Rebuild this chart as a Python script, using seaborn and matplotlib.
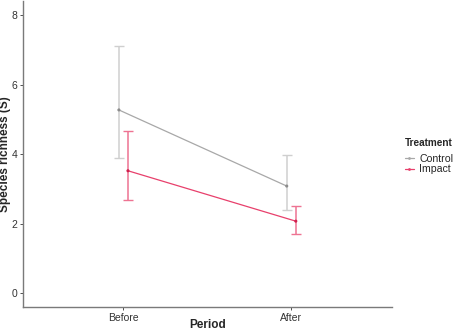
import numpy as np
import pandas as pd
import matplotlib
matplotlib.use("Agg")
from matplotlib import pyplot as plt
from matplotlib.lines import Line2D
import seaborn as sns

# Daten
periods = ["Before", "After"]
treatments = ["Control", "Impact"]
control_mean = [5.27, 3.08]
control_low = [3.89, 2.39]
control_high = [7.11, 3.97]
impact_mean = [3.52, 2.07]
impact_low = [2.68, 1.69]
impact_high = [4.65, 2.52]

line_colors = {"Control": "#a8a8a8", "Impact": "#e8406c"}
bar_colors = {"Control": "#cfcfcf", "Impact": "#ee7392"}
dodge = {"Control": -0.027, "Impact": 0.027}

df = pd.DataFrame({
    "Period": periods * 2,
    "Treatment": ["Control"] * 2 + ["Impact"] * 2,
    "mean": control_mean + impact_mean,
    "low": control_low + impact_low,
    "high": control_high + impact_high,
})
df["pos"] = df["Period"].map({p: i for i, p in enumerate(periods)}) + df["Treatment"].map(dodge)

sns.set_theme(style="white")
plt.rcParams["font.family"] = ["Liberation Sans", "DejaVu Sans"]

fig = plt.figure(figsize=(4.57, 3.31), dpi=100)
ax = fig.add_axes([0.0497, 0.0725, 0.808, 0.924])

for t in treatments:
    sub = df[df["Treatment"] == t]
    ax.errorbar(sub["pos"], sub["mean"],
                yerr=[sub["mean"] - sub["low"], sub["high"] - sub["mean"]],
                fmt="none", ecolor=bar_colors[t], elinewidth=1.1,
                capsize=3.3, capthick=1.0, zorder=2)

sns.lineplot(data=df, x="pos", y="mean", hue="Treatment", palette=line_colors,
             linewidth=0.9, legend=False, ax=ax, zorder=3)
sns.scatterplot(data=df, x="pos", y="mean", hue="Treatment",
                palette={"Control": "#8c8c8c", "Impact": "#d0204e"},
                s=5, linewidth=0, legend=False, ax=ax, zorder=4)

ax.set_xlim(-0.6, 1.6)
ax.set_ylim(-0.4, 8.4)
ax.set_xticks(range(len(periods)), periods)
ax.set_yticks([0, 2, 4, 6, 8])
ax.set_xlabel("Period", fontsize=8.5, fontweight="bold")
ax.set_ylabel("Species richness (S)", fontsize=8.5, fontweight="bold")
ax.xaxis.set_label_coords(0.5, -0.06)
ax.yaxis.set_label_coords(-0.047, 0.5)
ax.xaxis.label.set_va("center")
ax.yaxis.label.set_va("center")
ax.tick_params(axis="both", labelsize=7.5, length=2.5, width=0.6, color="#333333",
               pad=1.5, labelcolor="#333333", bottom=True, left=True)

for side in ["top", "right"]:
    ax.spines[side].set_visible(False)
for side in ["left", "bottom"]:
    ax.spines[side].set_color("#7a7a7a")
    ax.spines[side].set_linewidth(1.0)

handles = [Line2D([0], [0], color=line_colors[t], linewidth=0.9, marker="o",
                  markersize=2, markerfacecolor=line_colors[t], markeredgewidth=0)
           for t in treatments]
leg = fig.legend(handles, treatments, title="Treatment", loc="upper left",
                 bbox_to_anchor=(0.874, 0.598), frameon=False, fontsize=7.6,
                 title_fontsize=7.2, handlelength=0.9, handletextpad=0.5,
                 labelspacing=0.05, borderpad=0)
leg.get_title().set_fontweight("bold")
leg._legend_box.align = "left"
leg._legend_box.sep = 4

fig.savefig("out.png", dpi=100)
